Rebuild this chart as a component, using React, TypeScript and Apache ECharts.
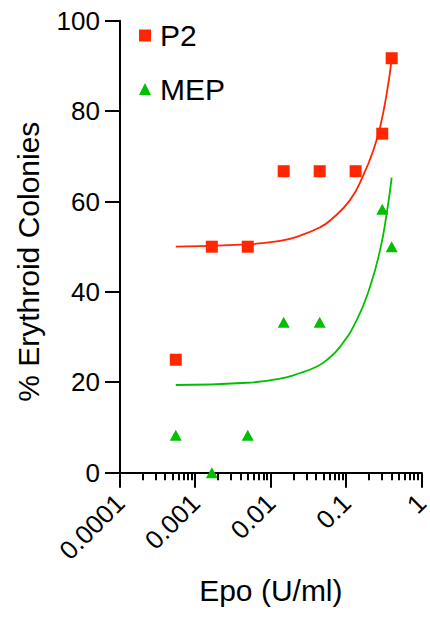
import React, { useEffect, useRef } from 'react';
import * as echarts from 'echarts';

const FONT = '"Liberation Sans", Arial, Helvetica, sans-serif';
const RED = '#ff2600';
const GREEN = '#00c000';

// Observed colony percentages
const p2Epo = [0.000549, 0.00165, 0.00494, 0.0148, 0.0444, 0.133, 0.3, 0.4];
const p2Pct = [25, 50, 50, 66.7, 66.7, 66.7, 75, 91.7];
const mepEpo = [0.000549, 0.00165, 0.00494, 0.0148, 0.0444, 0.3, 0.4];
const mepPct = [8.3, 0, 8.3, 33.3, 33.3, 58.3, 50];

// Fitted curves
const p2FitEpo = [0.000549, 0.0048, 0.0133, 0.024, 0.045, 0.061, 0.112, 0.169, 0.229, 0.281, 0.344, 0.4];
const p2FitPct = [50.0, 50.5, 51.3, 52.4, 54.3, 55.8, 60.3, 65.9, 71.4, 76.5, 83.9, 91.5];
const mepFitEpo = [0.000549, 0.0048, 0.0133, 0.024, 0.041, 0.055, 0.083, 0.138, 0.207, 0.281, 0.344, 0.4];
const mepFitPct = [19.4, 19.9, 20.8, 22.0, 23.5, 24.9, 27.9, 33.8, 41.2, 49.3, 57.4, 65.3];

// Axis ticks
const xTickValues = [0.0001, 0.001, 0.01, 0.1, 1];
const xTickLabels = ['0.0001', '0.001', '0.01', '0.1', '1'];
const minorTickEpo = [
  0.0002, 0.0003, 0.0004, 0.0005, 0.0006, 0.0007, 0.0008, 0.0009,
  0.002, 0.003, 0.004, 0.005, 0.006, 0.007, 0.008, 0.009,
  0.02, 0.03, 0.04, 0.05, 0.06, 0.07, 0.08, 0.09,
  0.2, 0.3, 0.4, 0.5, 0.6, 0.7, 0.8, 0.9,
];
const yTickValues = [0, 20, 40, 60, 80, 100];
const yMin = 0;
const yMax = 100;
const yInterval = 20;

const zip = (xs: number[], ys: number[]) => xs.map((x, i) => [x, ys[i]]);

export default function App() {
  const ref = useRef<HTMLDivElement>(null);

  useEffect(() => {
    if (!ref.current) return;
    const chart = echarts.init(ref.current, null, { renderer: 'svg' });
    const option: any = {
      animation: false,
      textStyle: { fontFamily: FONT },
      grid: { left: 120, top: 20.7, width: 301.7, height: 452, outerBoundsMode: 'none' },
      legend: {
        data: ['P2', 'MEP'],
        orient: 'vertical',
        left: 139,
        top: 20.5,
        padding: 0,
        itemGap: 23.5,
        itemWidth: 12,
        itemHeight: 12,
        textStyle: { fontFamily: FONT, fontSize: 30, color: '#000', padding: [0, 0, 0, 4] },
      },
      xAxis: {
        type: 'log',
        logBase: 10,
        min: 0.0001,
        max: 1,
        name: 'Epo (U/ml)',
        nameLocation: 'middle',
        nameGap: 103,
        nameTextStyle: { fontFamily: FONT, fontSize: 30, color: '#000' },
        axisLine: { show: true, onZero: false, lineStyle: { color: '#000', width: 2 } },
        axisTick: { show: false },
        axisLabel: {
          rotate: 45,
          margin: 26,
          fontFamily: FONT,
          fontSize: 26,
          color: '#000',
          hideOverlap: false,
          formatter: (v: number) => {
            const i = xTickValues.findIndex((t) => Math.abs(Math.log10(t) - Math.log10(v)) < 1e-6);
            return i >= 0 ? xTickLabels[i] : '';
          },
        },
        splitLine: { show: false },
      },
      yAxis: {
        type: 'value',
        min: yMin,
        max: yMax,
        interval: yInterval,
        name: '% Erythroid Colonies',
        nameLocation: 'middle',
        nameGap: 77,
        nameTextStyle: { fontFamily: FONT, fontSize: 30, color: '#000', padding: [0, 30, 0, 0] },
        axisLine: { show: true, lineStyle: { color: '#000', width: 2 } },
        axisTick: { show: false },
        axisLabel: { margin: 20, fontFamily: FONT, fontSize: 26, color: '#000' },
        splitLine: { show: false },
      },
      series: [
        {
          name: 'P2 fit',
          type: 'line',
          data: zip(p2FitEpo, p2FitPct),
          smooth: 0.5,
          showSymbol: false,
          silent: true,
          lineStyle: { color: RED, width: 1.8 },
        },
        {
          name: 'MEP fit',
          type: 'line',
          data: zip(mepFitEpo, mepFitPct),
          smooth: 0.5,
          showSymbol: false,
          silent: true,
          lineStyle: { color: GREEN, width: 1.8 },
        },
        {
          name: 'P2',
          type: 'scatter',
          symbol: 'rect',
          symbolSize: 12,
          data: zip(p2Epo, p2Pct),
          itemStyle: { color: RED, opacity: 1 },
          clip: false,
          z: 3,
        },
        {
          name: 'MEP',
          type: 'scatter',
          symbol: 'triangle',
          symbolSize: [12, 11],
          data: zip(mepEpo, mepPct),
          itemStyle: { color: GREEN, opacity: 1 },
          clip: false,
          z: 3,
        },
      ],
    };
    chart.setOption(option);

    // Axis ticks positioned through the chart's own scales
    const finder = { xAxisIndex: 0, yAxisIndex: 0 };
    const toPx = (x: number, y: number) => chart.convertToPixel(finder, [x, y]) as number[];
    const tickStyle = { stroke: '#000', lineWidth: 2 };
    const elements: any[] = [];
    yTickValues.forEach((v) => {
      const p = toPx(xTickValues[0], v);
      const y = Math.round(p[1]);
      elements.push({ type: 'line', silent: true, z: 100, shape: { x1: p[0] - 15, y1: y, x2: p[0], y2: y }, style: tickStyle });
    });
    xTickValues.forEach((v) => {
      const p = toPx(v, yMin);
      const x = Math.round(p[0]);
      elements.push({ type: 'line', silent: true, z: 100, shape: { x1: x, y1: p[1], x2: x, y2: p[1] + 15 }, style: tickStyle });
    });
    minorTickEpo.forEach((v) => {
      const p = toPx(v, yMin);
      const x = Math.round(p[0]);
      elements.push({ type: 'line', silent: true, z: 100, shape: { x1: x, y1: p[1], x2: x, y2: p[1] + 7.5 }, style: tickStyle });
    });
    chart.setOption({ graphic: { elements } });

    return () => chart.dispose();
  }, []);

  return (
    <div
      ref={ref}
      style={{ position: 'fixed', left: 0, top: 0, width: 430, height: 621, background: '#fff' }}
    />
  );
}
